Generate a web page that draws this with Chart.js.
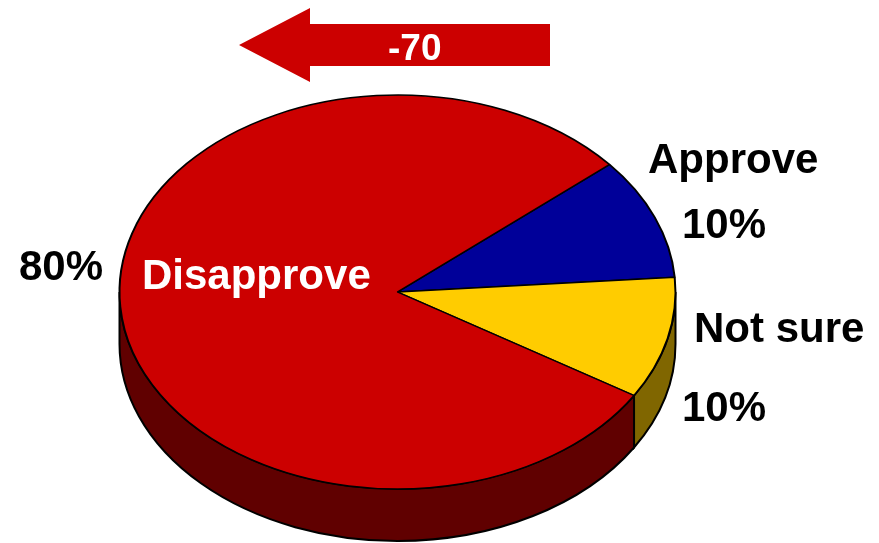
<!DOCTYPE html>
<html>
<head>
<meta charset="utf-8">
<title>Approve / Disapprove</title>
<script src="https://cdn.jsdelivr.net/npm/chart.js@4"></script>
<style>
    html, body { margin: 0; padding: 0; background: #fff; }
    canvas { display: block; }
</style>
</head>
<body>
<canvas id="pieChart" width="879" height="543"></canvas>
<script>
// Data
const categories = ['Approve', 'Not sure', 'Disapprove'];
const shares = [10, 10, 80];
const netLabel = '-70';

// Colours
const topColors = ['#000099', '#ffcc00', '#cc0000'];
const sideColors = ['#000050', '#806600', '#600000'];

// Pie Shape
const RADIUS = 278;
const SQUASH = 197 / 278;
const DEPTH = 52;
const FONT = 'bold 42px "Liberation Sans", Arial, sans-serif';

// Side wall under the front half of the pie
function drawWall (chart) {
    const ctx = chart.ctx;
    chart.getDatasetMeta(0).data.forEach((arc, i) => {
        const from = Math.max(arc.startAngle, 0);
        const to = Math.min(arc.endAngle, Math.PI);
        if (from >= to) return;
        const ry = arc.outerRadius * SQUASH;
        ctx.beginPath();
        ctx.ellipse(arc.x, arc.y, arc.outerRadius, ry, 0, from, to);
        ctx.ellipse(arc.x, arc.y + DEPTH, arc.outerRadius, ry, 0, to, from, true);
        ctx.closePath();
        ctx.fillStyle = sideColors[i];
        ctx.fill();
        ctx.lineWidth = 2;
        ctx.strokeStyle = '#000';
        ctx.stroke();
    });
}

function drawArrow (ctx) {
    ctx.beginPath();
    ctx.moveTo(239, 45);
    ctx.lineTo(310, 8);
    ctx.lineTo(310, 24);
    ctx.lineTo(550, 24);
    ctx.lineTo(550, 66);
    ctx.lineTo(310, 66);
    ctx.lineTo(310, 82);
    ctx.closePath();
    ctx.fillStyle = '#cc0000';
    ctx.fill();
}

function drawText (ctx, text, x, y, color, font) {
    ctx.font = font || FONT;
    ctx.fillStyle = color;
    ctx.textAlign = 'left';
    ctx.textBaseline = 'alphabetic';
    ctx.fillText(text, x, y);
}

const pie3d = {
    id: 'pie3d',
    beforeDatasetsDraw (chart) {
        const arc = chart.getDatasetMeta(0).data[0];
        drawWall(chart);
        // Squash the library's round pie into the tilted ellipse
        chart.ctx.save();
        chart.ctx.translate(arc.x, arc.y);
        chart.ctx.scale(1, SQUASH);
        chart.ctx.translate(-arc.x, -arc.y);
    },
    afterDatasetsDraw (chart) {
        const ctx = chart.ctx;
        ctx.restore();

        drawArrow(ctx);
        drawText(ctx, netLabel, 388, 60, '#fff', 'bold 37px "Liberation Sans", Arial, sans-serif');

        drawText(ctx, categories[0], 648, 173, '#000');
        drawText(ctx, shares[0] + '%', 682, 238, '#000');
        drawText(ctx, categories[1], 694, 342, '#000');
        drawText(ctx, shares[1] + '%', 682, 421, '#000');
        drawText(ctx, categories[2], 142, 289, '#fff');
        drawText(ctx, shares[2] + '%', 19, 280, '#000');
    }
};

// Chart Setup
new Chart(document.getElementById('pieChart').getContext('2d'), {
    type: 'pie',
    data: {
        labels: categories,
        datasets: [{
            data: shares,
            backgroundColor: topColors,
            borderColor: '#000',
            borderWidth: 2,
            clip: false
        }]
    },
    options: {
        responsive: false,
        animation: false,
        radius: RADIUS,
        rotation: 49.7,
        layout: { padding: { top: 41, right: 84 } },
        plugins: {
            legend: { display: false },
            tooltip: { enabled: false }
        }
    },
    plugins: [pie3d]
});
</script>
</body>
</html>
